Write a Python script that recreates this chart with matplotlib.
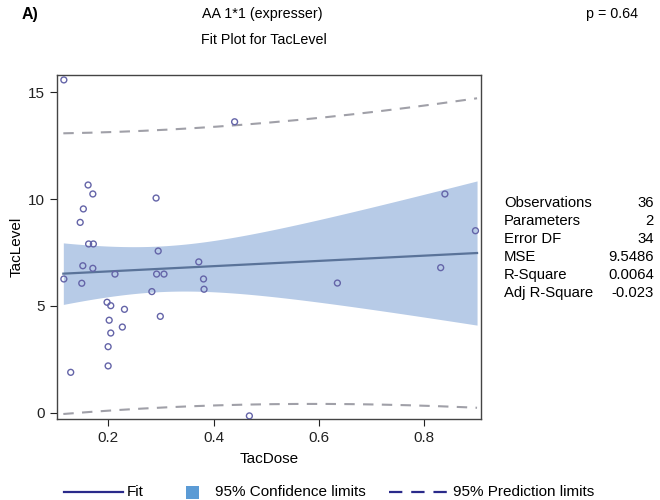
import numpy as np
import matplotlib
matplotlib.use("Agg")
import matplotlib.pyplot as plt
from matplotlib.lines import Line2D
from matplotlib.patches import Rectangle

plt.rcParams['font.family'] = ['Liberation Sans', 'DejaVu Sans']

tac_dose = [0.116, 0.440, 0.162, 0.171, 0.291, 0.153, 0.147, 0.163, 0.172, 0.295,
            0.152, 0.171, 0.213, 0.292, 0.306, 0.372, 0.381, 0.382, 0.116, 0.150,
            0.283, 0.198, 0.205, 0.231, 0.299, 0.202, 0.227, 0.205, 0.200, 0.200,
            0.129, 0.468, 0.839, 0.897, 0.831, 0.635]
tac_level = [15.58, 13.62, 10.66, 10.24, 10.05, 9.54, 8.91, 7.90, 7.90, 7.57,
             6.88, 6.76, 6.49, 6.49, 6.49, 7.06, 6.26, 5.78, 6.26, 6.06,
             5.67, 5.17, 5.01, 4.84, 4.51, 4.33, 4.01, 3.73, 3.09, 2.19,
             1.89, -0.15, 10.24, 8.52, 6.79, 6.07]

stat_labels = ["Observations", "Parameters", "Error DF", "MSE", "R-Square", "Adj R-Square"]
stat_values = ["36", "2", "34", "9.5486", "0.0064", "-0.023"]
x_ticks = [0.2, 0.4, 0.6, 0.8]
y_ticks = [0, 5, 10, 15]
t_crit = 2.0322  # t(0.975, 34)

x = np.array(tac_dose)
y = np.array(tac_level)
n = len(x)
slope, intercept = np.polyfit(x, y, 1)
resid = y - (intercept + slope * x)
mse = np.sum(resid ** 2) / (n - 2)
sxx = np.sum((x - x.mean()) ** 2)
xg = np.linspace(0.115, 0.9, 200)
yg = intercept + slope * xg
se_mean = np.sqrt(mse * (1 / n + (xg - x.mean()) ** 2 / sxx))
se_pred = np.sqrt(mse * (1 + 1 / n + (xg - x.mean()) ** 2 / sxx))

W, H = 660, 500
fig = plt.figure(figsize=(6.6, 5.0), dpi=100)
ax = fig.add_axes([57 / W, 1 - 419 / H, (481 - 57) / W, (419 - 75) / H])

ax.fill_between(xg, yg - t_crit * se_mean, yg + t_crit * se_mean,
                color='#b7cbe7', lw=0, zorder=1)
ax.plot(xg, yg, color='#5a7399', lw=1.6, zorder=2)
ax.plot(xg, yg + t_crit * se_pred, color='#a0a0a8', lw=1.5, ls=(0, (5, 4)), zorder=2)
ax.plot(xg, yg - t_crit * se_pred, color='#a0a0a8', lw=1.5, ls=(0, (5, 4)), zorder=2)
ax.scatter(x, y, s=18, facecolors='none', edgecolors='#6464a8', linewidths=1.0, zorder=3)

ax.set_xlim(0.103, 0.9075)
ax.set_ylim(-0.295, 15.81)
ax.set_xticks(x_ticks)
ax.set_xticklabels([f"{v:.1f}" for v in x_ticks])
ax.set_yticks(y_ticks)
ax.tick_params(direction='out', length=5, width=0.8, labelsize=11, colors='#222222')
for s in ax.spines.values():
    s.set_color('#444444')
    s.set_linewidth(1.0)
ax.set_xlabel("TacDose", fontsize=11, labelpad=5)
ax.set_ylabel("TacLevel", fontsize=11, labelpad=3)

# titles
fig.text(22 / W, 1 - 14 / H, "A)", fontsize=11.5, fontweight='bold', ha='left', va='center')
fig.text(262 / W, 1 - 14 / H, "AA 1*1 (expresser)", fontsize=10.3, ha='center', va='center')
fig.text(638 / W, 1 - 14 / H, "p = 0.64", fontsize=10.3, ha='right', va='center')
fig.text(264 / W, 1 - 40 / H, "Fit Plot for TacLevel", fontsize=10.3, ha='center', va='center')

# statistics table
for i, (lab, val) in enumerate(zip(stat_labels, stat_values)):
    yy = 1 - (203 + i * 18) / H
    fig.text(504 / W, yy, lab, fontsize=10.7, ha='left', va='center')
    fig.text(654 / W, yy, val, fontsize=10.7, ha='right', va='center')

# legend (drawn manually)
ly = 1 - 492 / H
fig.add_artist(Line2D([64 / W, 123 / W], [ly, ly], color='#2a2a8a', lw=1.6))
fig.text(127 / W, ly, "Fit", fontsize=11, ha='left', va='center')
fig.add_artist(Rectangle((186 / W, ly - 6.5 / H), 13 / W, 13 / H, color='#5b9bd5', lw=0))
fig.text(215 / W, ly, "95% Confidence limits", fontsize=11, ha='left', va='center')
fig.add_artist(Line2D([389 / W, 450 / W], [ly, ly], color='#2a2a8a', lw=1.6, ls=(0, (6, 4))))
fig.text(453 / W, ly, "95% Prediction limits", fontsize=11, ha='left', va='center')

fig.savefig("out.png", dpi=100)
